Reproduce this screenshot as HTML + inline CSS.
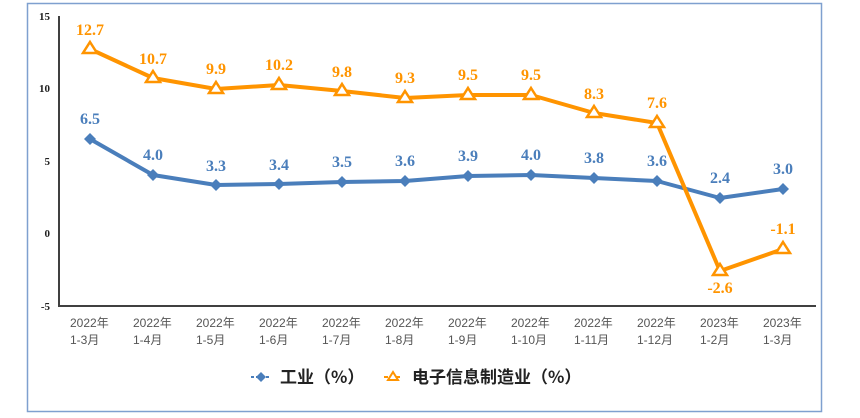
<!DOCTYPE html>
<html><head><meta charset="utf-8"><style>
html,body{margin:0;padding:0;background:#fff;width:860px;height:418px;overflow:hidden}
</style></head><body>
<svg width="860" height="418" xmlns="http://www.w3.org/2000/svg">
<rect x="27.5" y="3.5" width="794" height="408" fill="#fff" stroke="#7fa0cf" stroke-width="1.5"/>
<line x1="59" y1="16" x2="59" y2="306" stroke="#404040" stroke-width="2"/>
<line x1="58" y1="306" x2="816" y2="306" stroke="#404040" stroke-width="2"/>
<g font-family="Liberation Serif, serif" font-weight="bold" font-size="11" fill="#222" text-anchor="end">
<text x="50" y="20">15</text><text x="50" y="92">10</text><text x="50" y="165">5</text><text x="50" y="237">0</text><text x="50" y="310">-5</text>
</g>
<g font-family="Liberation Sans, 'Noto Sans CJK SC', sans-serif" font-size="12" fill="#555">
<text x="70" y="327">2022年</text><text x="70" y="344">1-3月</text>
<text x="133" y="327">2022年</text><text x="133" y="344">1-4月</text>
<text x="196" y="327">2022年</text><text x="196" y="344">1-5月</text>
<text x="259" y="327">2022年</text><text x="259" y="344">1-6月</text>
<text x="322" y="327">2022年</text><text x="322" y="344">1-7月</text>
<text x="385" y="327">2022年</text><text x="385" y="344">1-8月</text>
<text x="448" y="327">2022年</text><text x="448" y="344">1-9月</text>
<text x="511" y="327">2022年</text><text x="511" y="344">1-10月</text>
<text x="574" y="327">2022年</text><text x="574" y="344">1-11月</text>
<text x="637" y="327">2022年</text><text x="637" y="344">1-12月</text>
<text x="700" y="327">2023年</text><text x="700" y="344">1-2月</text>
<text x="763" y="327">2023年</text><text x="763" y="344">1-3月</text>
</g>
<polyline fill="none" stroke="#4a7ebb" stroke-width="4" stroke-linejoin="round"
points="90,139 153,175 216,185 279,184 342,182 405,181 468,176 531,175 594,178 657,181 720,198 783,189"/>
<g fill="#4a7ebb">
<path d="M90,133 l6,6 l-6,6 l-6,-6z"/><path d="M153,169 l6,6 l-6,6 l-6,-6z"/><path d="M216,179 l6,6 l-6,6 l-6,-6z"/><path d="M279,178 l6,6 l-6,6 l-6,-6z"/><path d="M342,176 l6,6 l-6,6 l-6,-6z"/><path d="M405,175 l6,6 l-6,6 l-6,-6z"/><path d="M468,170 l6,6 l-6,6 l-6,-6z"/><path d="M531,169 l6,6 l-6,6 l-6,-6z"/><path d="M594,172 l6,6 l-6,6 l-6,-6z"/><path d="M657,175 l6,6 l-6,6 l-6,-6z"/><path d="M720,192 l6,6 l-6,6 l-6,-6z"/><path d="M783,183 l6,6 l-6,6 l-6,-6z"/>
</g>
<polyline fill="none" stroke="#ff9400" stroke-width="4" stroke-linejoin="round"
points="90,49 153,78 216,89 279,85 342,91 405,98 468,95 531,95 594,113 657,123 720,271 783,249"/>
<g fill="#fff" stroke="#ff9400" stroke-width="2.5">
<path d="M90,42 l7,11 h-14z"/><path d="M153,71 l7,11 h-14z"/><path d="M216,82 l7,11 h-14z"/><path d="M279,78 l7,11 h-14z"/><path d="M342,84 l7,11 h-14z"/><path d="M405,91 l7,11 h-14z"/><path d="M468,88 l7,11 h-14z"/><path d="M531,88 l7,11 h-14z"/><path d="M594,106 l7,11 h-14z"/><path d="M657,116 l7,11 h-14z"/><path d="M720,264 l7,11 h-14z"/><path d="M783,242 l7,11 h-14z"/>
</g>
<g font-family="Liberation Serif, serif" font-weight="bold" font-size="16" text-anchor="middle" fill="#4a7ebb">
<text x="90" y="124">6.5</text><text x="153" y="160">4.0</text><text x="216" y="171">3.3</text><text x="279" y="170">3.4</text><text x="342" y="167">3.5</text><text x="405" y="166">3.6</text><text x="468" y="161">3.9</text><text x="531" y="160">4.0</text><text x="594" y="163">3.8</text><text x="657" y="166">3.6</text><text x="720" y="183">2.4</text><text x="783" y="174">3.0</text>
</g>
<g font-family="Liberation Serif, serif" font-weight="bold" font-size="16" text-anchor="middle" fill="#ff9400">
<text x="90" y="35">12.7</text><text x="153" y="64">10.7</text><text x="216" y="74">9.9</text><text x="279" y="70">10.2</text><text x="342" y="77">9.8</text><text x="405" y="83">9.3</text><text x="468" y="80">9.5</text><text x="531" y="80">9.5</text><text x="594" y="99">8.3</text><text x="657" y="108">7.6</text><text x="720" y="293">-2.6</text><text x="783" y="234">-1.1</text>
</g>
<line x1="251" y1="377" x2="270" y2="377" stroke="#4a7ebb" stroke-width="2" stroke-dasharray="3,2"/>
<path d="M261,372 l5,5 l-5,5 l-5,-5z" fill="#4a7ebb"/>
<line x1="384" y1="377" x2="403" y2="377" stroke="#ff9400" stroke-width="2" stroke-dasharray="4,8"/>
<path d="M393,372 l5,8 h-10z" fill="#fff" stroke="#ff9400" stroke-width="2"/>
<g font-family="'Noto Sans CJK SC', sans-serif" font-weight="bold" font-size="17" fill="#222">
<text x="280" y="383">工业（%）</text>
<text x="412" y="383">电子信息制造业（%）</text>
</g>
</svg>
</body></html>
